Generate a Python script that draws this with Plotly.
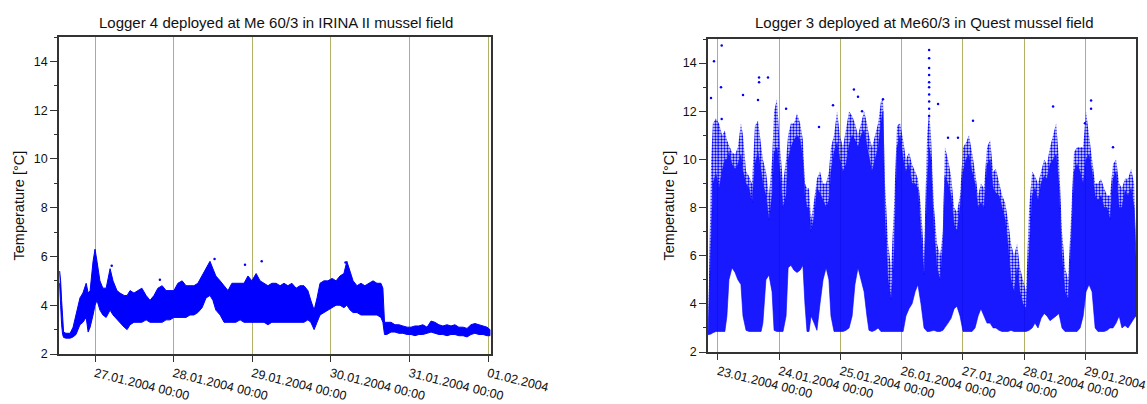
import plotly.graph_objects as go
import pandas as pd

# ---------------- data: Logger 4 (left) ----------------
LEFT_T0 = "2004-01-27 00:00"
left_hours = [-10.8, -10.5, -10.2, -9.9, -9.6, -8.9, -7.6, -6.7, -5.8, -5.2, -4.6, -3.7, -2.7, -2.1, -1.5, -0.6,
              0.0, 0.6, 1.5, 2.4, 3.4, 4.6, 5.5, 6.7, 7.6, 8.9, 9.8, 10.7, 11.9, 13.1, 14.3, 15.6, 16.8, 18.0,
              19.2, 20.5, 21.7, 22.9, 24.1, 25.3, 26.6, 27.8, 29.0, 30.2, 31.4, 32.7, 33.9, 35.1, 36.0, 36.9,
              38.2, 39.4, 40.6, 41.8, 43.0, 44.3, 45.5, 46.7, 47.9, 49.2, 50.4, 51.6, 52.8, 54.0, 55.3, 56.5,
              57.7, 58.9, 60.1, 61.4, 62.6, 63.8, 65.0, 65.9, 66.9, 67.8, 68.7, 69.9, 71.1, 72.4, 73.6, 74.8,
              76.0, 76.9, 77.9, 78.8, 80.0, 81.2, 82.4, 83.7, 84.9, 86.1, 87.3, 87.9, 88.4, 89.1, 90.4, 91.6,
              92.8, 94.0, 95.3, 96.5, 97.7, 98.9, 100.1, 101.4, 102.6, 103.8, 105.0, 106.2, 107.5, 108.7,
              109.9, 111.1, 112.4, 113.6, 114.8, 116.0, 117.2, 118.5, 119.7, 120.6]
left_low = [4.9, 4.0, 3.2, 2.8, 2.68, 2.65, 2.65, 2.7, 2.8, 3.0, 3.2, 3.3, 3.5, 2.9, 3.1, 3.6,
            4.0, 4.2, 3.8, 3.6, 3.5, 3.8, 3.6, 3.4, 3.3, 3.1, 3.0, 3.2, 3.3, 3.3, 3.3, 3.4, 3.3, 3.3,
            3.3, 3.3, 3.4, 3.4, 3.5, 3.5, 3.5, 3.5, 3.6, 3.6, 3.7, 3.9, 4.3, 4.4, 4.2, 3.8,
            3.6, 3.3, 3.3, 3.3, 3.3, 3.4, 3.3, 3.3, 3.3, 3.3, 3.3, 3.3, 3.2, 3.3, 3.3, 3.3,
            3.3, 3.3, 3.3, 3.3, 3.3, 3.3, 3.4, 3.3, 3.0, 3.3, 3.6, 3.7, 3.8, 3.9, 4.0, 4.0,
            3.9, 4.0, 3.8, 3.7, 3.7, 3.6, 3.6, 3.6, 3.6, 3.6, 3.5, 3.3, 2.8, 2.8, 2.9, 2.9,
            2.85, 2.85, 2.8, 2.8, 2.75, 2.8, 2.8, 2.85, 2.9, 2.85, 2.8, 2.8, 2.75, 2.8,
            2.8, 2.75, 2.75, 2.7, 2.8, 2.85, 2.8, 2.8, 2.75, 2.75]
left_high = [5.4, 5.0, 4.2, 3.3, 2.9, 2.85, 2.85, 3.1, 3.6, 3.9, 4.3, 4.5, 4.9, 4.5, 4.6, 5.8,
             6.3, 5.8, 5.0, 4.7, 4.7, 5.5, 5.0, 4.6, 4.5, 4.4, 4.4, 4.6, 4.5, 4.6, 4.7, 4.4, 4.2, 4.4,
             4.7, 4.8, 4.6, 4.6, 4.6, 4.9, 5.0, 4.8, 4.8, 4.8, 4.9, 5.2, 5.5, 5.8, 5.5, 5.2,
             5.0, 4.8, 4.6, 4.9, 4.9, 4.9, 4.9, 5.2, 5.0, 5.3, 5.0, 4.9, 4.8, 4.9, 4.9, 4.8,
             4.9, 4.8, 4.9, 4.7, 4.8, 4.8, 4.6, 4.2, 3.8, 4.3, 4.9, 5.0, 5.0, 5.1, 5.0, 5.2,
             5.3, 5.8, 5.4, 5.0, 4.8, 4.9, 4.8, 4.9, 5.0, 4.9, 4.9, 4.7, 3.3, 3.3, 3.3, 3.2,
             3.2, 3.15, 3.1, 3.1, 3.15, 3.15, 3.2, 3.1, 3.35, 3.3, 3.2, 3.15, 3.2, 3.15,
             3.2, 3.1, 3.1, 3.05, 3.2, 3.25, 3.2, 3.15, 3.1, 3.0]
left_pts_hours = [5.1, 19.8, 45.8, 50.9, 36.5, 76.5]
left_pts_temp = [5.62, 5.04, 5.66, 5.8, 5.9, 5.75]
left_ticks = ["2004-01-27", "2004-01-28", "2004-01-29", "2004-01-30", "2004-01-31", "2004-02-01"]
left_ticktext = ["27.01.2004 00:00", "28.01.2004 00:00", "29.01.2004 00:00",
                 "30.01.2004 00:00", "31.01.2004 00:00", "01.02.2004"]

# ---------------- data: Logger 3 (right) ----------------
RIGHT_T0 = "2004-01-23 00:00"
right_hours = [-3.9, -2.7, -2.0, -0.8, 0.4, 1.6, 2.7, 3.5, 4.3, 5.5, 6.7, 7.8, 9.0, 9.8, 11.0, 12.2, 13.3,
               14.5, 15.7, 16.9, 17.6, 18.8, 20.0, 21.2, 22.0, 23.1, 24.3, 25.5, 26.7, 27.5, 28.6, 29.8,
               31.0, 32.2, 33.3, 34.1, 34.9, 35.7, 36.5, 37.7, 38.8, 40.0, 41.2, 42.4, 43.5, 44.3, 45.5,
               46.7, 47.8, 49.0, 50.2, 51.4, 52.6, 53.7, 54.9, 56.1, 57.3, 58.4, 59.2, 60.4, 61.6, 62.8,
               63.9, 64.7, 65.5, 66.7, 67.9, 69.0, 70.2, 71.4, 72.6, 73.7, 74.9, 76.1, 77.3, 78.4, 79.6,
               80.8, 82.0, 82.8, 83.5, 84.7, 85.9, 87.1, 88.2, 89.0, 90.2, 91.4, 92.6, 93.7, 94.9, 96.1,
               97.3, 98.4, 99.6, 100.8, 102.0, 103.1, 104.3, 105.5, 106.7, 107.9, 109.0, 110.2, 111.4,
               112.6, 113.7, 114.9, 116.1, 117.3, 118.4, 119.6, 120.8, 122.0, 123.2, 124.3, 125.5, 126.7,
               127.9, 129.0, 130.2, 131.4, 132.6, 133.7, 134.9, 136.1, 137.3, 138.4, 139.6, 140.8, 142.0,
               143.2, 144.3, 145.5, 146.7, 147.9, 149.0, 150.2, 151.4, 152.6, 153.7, 154.9, 156.1, 157.3,
               158.4, 159.6, 160.8, 162.0, 163.2, 163.9]
right_low = [2.72, 2.75, 2.8, 2.85, 2.85, 2.85, 2.85, 3.5, 5.0, 5.5, 5.3, 5.0, 4.8, 3.5, 2.9, 2.85, 2.85,
             2.85, 2.85, 2.85, 3.2, 5.0, 5.2, 4.5, 2.9, 2.85, 2.85, 2.85, 3.5, 5.5, 5.6, 5.4,
             5.3, 5.4, 5.6, 4.0, 2.85, 2.85, 3.5, 3.2, 2.9, 4.0, 5.0, 5.5, 5.0, 3.5, 2.85,
             2.85, 2.85, 2.85, 2.9, 3.0, 3.5, 4.8, 5.5, 5.0, 4.5, 3.5, 2.9, 2.85, 2.9, 3.0,
             2.85, 2.85, 2.85, 2.85, 2.85, 2.85, 2.85, 2.85, 2.85, 3.5, 3.8, 4.0, 4.5, 4.8, 4.0,
             3.0, 2.85, 2.85, 2.85, 2.9, 2.85, 2.85, 2.9, 3.0, 3.2, 3.4, 3.8, 3.9, 3.5, 2.85,
             2.85, 2.85, 2.85, 3.0, 3.5, 3.8, 3.5, 3.2, 3.2, 3.0, 3.0, 2.9, 2.85,
             2.85, 2.85, 2.9, 2.85, 2.85, 2.85, 2.85, 2.85, 2.9, 3.0, 3.2, 3.0, 3.4,
             3.6, 3.5, 3.3, 3.4, 3.5, 3.6, 3.0, 2.85, 2.85, 2.85, 2.85, 2.85, 3.0,
             3.5, 4.5, 4.8, 4.5, 3.0, 2.85, 2.85, 2.85, 2.9, 3.0, 3.0, 3.2, 3.5,
             3.0, 3.1, 3.0, 3.2, 3.4, 3.5]
right_high = [2.78, 6.5, 9.0, 9.4, 8.8, 9.5, 10.0, 10.0, 10.3, 9.8, 9.6, 9.8, 10.2, 9.5, 9.0, 8.8, 8.2,
              9.8, 10.3, 9.5, 9.0, 8.5, 7.5, 8.5, 10.3, 10.5, 9.5, 8.0, 8.5, 10.0, 10.5, 10.8,
              11.0, 10.8, 10.0, 8.5, 8.0, 8.0, 7.0, 7.6, 8.8, 8.6, 8.3, 8.0, 8.3, 9.5, 10.3,
              10.7, 10.0, 9.5, 9.8, 10.6, 11.0, 10.8, 10.5, 11.0, 11.2, 10.6, 10.3, 9.5, 10.0, 10.5,
              11.5, 12.0, 7.5, 5.0, 4.2, 6.0, 10.5, 11.0, 10.0, 9.5, 9.8, 9.0, 9.0, 8.8, 7.0,
              5.2, 9.0, 10.5, 10.0, 7.0, 5.5, 5.0, 6.5, 9.3, 9.0, 8.5, 7.3, 7.0, 8.0, 9.5,
              10.0, 10.2, 9.5, 9.0, 8.0, 8.2, 8.0, 9.8, 10.0, 8.8, 8.6, 8.5, 8.0,
              7.5, 6.5, 5.0, 4.5, 5.5, 4.5, 4.0, 3.8, 6.0, 8.5, 8.8, 8.3, 9.0,
              9.3, 9.2, 9.8, 10.0, 10.2, 9.0, 6.0, 4.5, 4.2, 6.5, 9.5, 9.8, 9.5,
              9.0, 10.0, 10.2, 9.5, 8.5, 8.3, 8.5, 8.0, 8.0, 7.5, 9.2, 9.5, 8.0,
              8.0, 8.7, 8.5, 8.8, 8.0, 6.0]
right_sparse = [2.78, 10.0, 11.5, 11.7, 11.5, 11.0, 11.2, 10.8, 10.6, 10.3, 10.2, 10.5, 11.5, 11.0, 9.5, 9.3, 9.0,
                11.4, 11.6, 10.5, 10.0, 9.5, 8.5, 10.0, 12.0, 12.5, 10.5, 9.0, 10.0, 11.0, 11.5, 11.5,
                11.9, 11.5, 10.8, 9.0, 8.8, 8.8, 7.5, 8.3, 9.2, 9.5, 9.0, 9.0, 9.5, 10.5, 11.0,
                12.0, 11.0, 10.5, 11.2, 12.0, 11.8, 11.5, 11.0, 11.5, 12.0, 11.5, 11.0, 10.5, 11.0, 11.5,
                12.4, 12.5, 9.0, 6.5, 5.5, 8.0, 11.4, 11.5, 10.8, 10.0, 10.3, 9.8, 9.5, 9.2, 8.0,
                6.0, 11.0, 12.0, 11.0, 8.0, 6.5, 6.0, 7.0, 10.5, 10.0, 9.3, 8.0, 7.8, 8.5, 10.5,
                10.7, 11.0, 10.3, 9.5, 8.5, 9.0, 8.8, 10.5, 10.8, 9.5, 9.6, 9.0, 8.5,
                8.2, 7.5, 6.5, 6.0, 6.5, 5.5, 5.0, 4.5, 8.0, 9.5, 9.3, 9.0, 9.5,
                10.0, 9.8, 10.5, 11.0, 11.5, 10.0, 7.0, 5.5, 5.0, 7.5, 10.3, 10.5, 10.5,
                10.5, 12.0, 11.0, 10.0, 9.0, 9.0, 9.2, 8.8, 8.5, 8.5, 9.8, 10.0, 9.0,
                8.8, 9.2, 9.2, 9.6, 9.0, 6.5]
right_pts_hours = [1.45, -1.57, 1.18, 1.45, -2.75, 16.1, 16.1, 19.6, 9.8, 15.7, 53.3, 54.9, 56.5, 64.7,
                   45.1, 39.6, 26.7, 82.8, 82.8, 82.8, 82.8, 82.8, 82.8, 82.8, 82.8, 82.8, 82.8,
                   86.3, 100.0, 131.4, 146.3, 146.3, 143.9, 154.9, 90.2, 94.1]
right_pts_temp = [14.73, 14.08, 13.0, 11.68, 12.55, 13.4, 13.2, 13.4, 12.67, 12.47, 12.9, 12.6, 12.0, 12.5,
                  12.25, 11.35, 12.1, 14.54, 14.2, 13.8, 13.5, 13.2, 13.0, 12.7, 12.4, 12.1, 11.8,
                  12.3, 11.6, 12.2, 12.45, 12.1, 11.5, 10.5, 10.9, 10.9]
right_ticks = ["2004-01-23", "2004-01-24", "2004-01-25", "2004-01-26", "2004-01-27", "2004-01-28", "2004-01-29"]
right_ticktext = ["23.01.2004 00:00", "24.01.2004 00:00", "25.01.2004 00:00", "26.01.2004 00:00",
                  "27.01.2004 00:00", "28.01.2004 00:00", "29.01.2004 00:00"]

TITLE_LEFT = "Logger 4 deployed at Me 60/3 in IRINA II mussel field"
TITLE_RIGHT = "Logger 3 deployed at Me60/3 in Quest mussel field"
Y_TITLE = "Temperature [°C]"


def to_time(t0, hours):
    return list(pd.Timestamp(t0) + pd.to_timedelta(hours, unit="h"))


def band(t, lo, hi):
    return t + t[::-1], list(hi) + list(lo)[::-1]


BLUE = "#0000ff"
fig = go.Figure()

# left panel
lt = to_time(LEFT_T0, left_hours)
bx, by = band(lt, left_low, left_high)
fig.add_trace(go.Scatter(x=bx, y=by, fill="toself", fillcolor=BLUE, mode="lines",
                         line=dict(color=BLUE, width=1), xaxis="x", yaxis="y", hoverinfo="skip"))
fig.add_trace(go.Scatter(x=to_time(LEFT_T0, left_pts_hours), y=left_pts_temp, mode="markers",
                         marker=dict(color=BLUE, size=2.5), xaxis="x", yaxis="y"))

# right panel
rt = to_time(RIGHT_T0, right_hours)
sx, sy = band(rt, right_high, right_sparse)
fig.add_trace(go.Scatter(x=sx, y=sy, fill="toself", fillcolor="rgba(0,0,255,0.12)", mode="lines",
                         line=dict(color="rgba(0,0,255,0)", width=0),
                         fillpattern=dict(shape=".", fgcolor=BLUE, bgcolor="rgba(0,0,255,0.1)",
                                          size=3, solidity=0.5, fillmode="replace"),
                         xaxis="x2", yaxis="y2", hoverinfo="skip"))
dx, dy = band(rt, right_low, right_high)
fig.add_trace(go.Scatter(x=dx, y=dy, fill="toself", fillcolor="rgba(0,0,255,0.9)", mode="lines",
                         line=dict(color=BLUE, width=0.6), xaxis="x2", yaxis="y2", hoverinfo="skip"))
fig.add_trace(go.Scatter(x=to_time(RIGHT_T0, right_pts_hours), y=right_pts_temp, mode="markers",
                         marker=dict(color=BLUE, size=2.5), xaxis="x2", yaxis="y2"))

GRID = "#b3b068"
AX = "#333333"
tickfont = dict(family="Liberation Sans, Arial, sans-serif", size=12.5, color="#111")

xcommon = dict(type="date", showgrid=True, gridcolor=GRID, gridwidth=1, ticks="outside", ticklen=6,
               tickcolor=AX, showline=True, linecolor=AX, linewidth=1.5, mirror=True,
               tickangle=14, tickfont=tickfont, zeroline=False, automargin=False,
               ticklabeloverflow="allow")
ycommon = dict(range=[2, 15], tickvals=[2, 4, 6, 8, 10, 12, 14], showgrid=False, ticks="outside",
               ticklen=7, tickcolor=AX, showline=True, linecolor=AX, linewidth=1.5, mirror=True,
               tickfont=tickfont, zeroline=False, automargin=False,
               minor=dict(dtick=1, ticks="outside", ticklen=3, tickcolor=AX))

fig.update_layout(
    template="none",
    width=1147, height=404, margin=dict(l=0, r=0, t=0, b=0, pad=0),
    paper_bgcolor="white", plot_bgcolor="white", showlegend=False,
    font=dict(family="Liberation Sans, Arial, sans-serif", color="#111"),
    xaxis=dict(xcommon, domain=[59 / 1147, 491 / 1147], anchor="y",
               range=["2004-01-26 13:00", "2004-02-01 00:55"],
               tickvals=left_ticks, ticktext=left_ticktext),
    yaxis=dict(ycommon, domain=[1 - 354 / 404, 1 - 37 / 404], anchor="x"),
    xaxis2=dict(xcommon, domain=[708 / 1147, 1136 / 1147], anchor="y2",
                range=["2004-01-22 20:05", "2004-01-29 19:55"],
                tickvals=right_ticks, ticktext=right_ticktext),
    yaxis2=dict(ycommon, domain=[1 - 352 / 404, 1 - 39 / 404], anchor="x2"),
    annotations=[
        dict(text=TITLE_LEFT, x=276 / 1147, y=1 - 22 / 404, xref="paper", yref="paper",
             showarrow=False, font=dict(size=15), xanchor="center", yanchor="middle"),
        dict(text=TITLE_RIGHT, x=925 / 1147, y=1 - 22 / 404, xref="paper", yref="paper",
             showarrow=False, font=dict(size=15), xanchor="center", yanchor="middle"),
        dict(text=Y_TITLE, x=18.5 / 1147, y=1 - 206 / 404, xref="paper", yref="paper",
             showarrow=False, font=dict(size=14.5), textangle=-90, xanchor="center", yanchor="middle"),
        dict(text=Y_TITLE, x=668.5 / 1147, y=1 - 206 / 404, xref="paper", yref="paper",
             showarrow=False, font=dict(size=14.5), textangle=-90, xanchor="center", yanchor="middle"),
    ],
)

page_css = """
var st = document.createElement('style');
st.textContent = 'html,body{margin:0;padding:0;overflow:hidden;width:1147px;height:404px;}';
document.head.appendChild(st);
"""
fig.write_html("out.html", config={"displayModeBar": False}, post_script=page_css)
